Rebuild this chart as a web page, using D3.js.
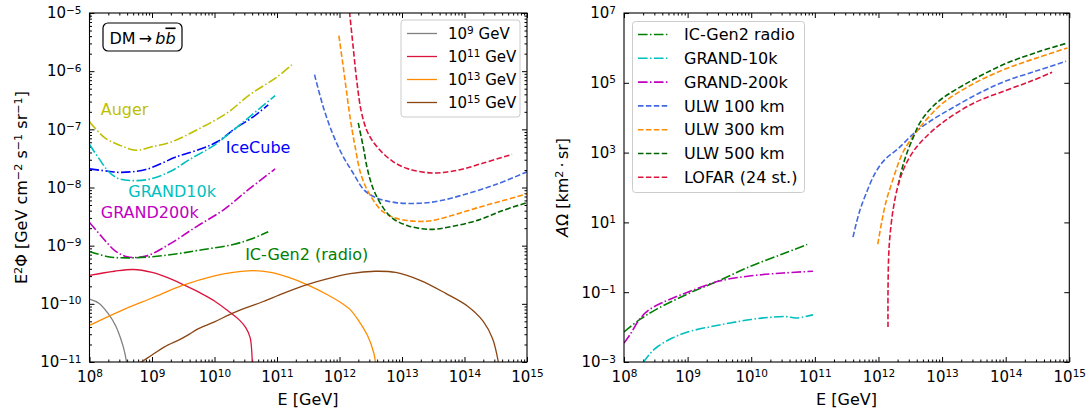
<!DOCTYPE html>
<html lang="en">
<head>
<meta charset="UTF-8">
<title>DM to b bbar: flux limits and exposure</title>
<script src="https://cdnjs.cloudflare.com/ajax/libs/d3/7.8.5/d3.min.js"></script>
<style>
    body { margin: 0; background: #fff; }
    svg { font-family: 'DejaVu Sans', sans-serif; }
</style>
</head>
<body>
<div id="chart"></div>
<script>
// Every curve is a list of [log10(E / GeV), log10(value)] pairs.

// ---- left panel: sensitivities (E^2 Phi) ----
const auger     = [[8,-6.87],[8.25,-7.15],[8.5,-7.28],[8.74,-7.36],[9.0,-7.30],[9.3,-7.22],[9.77,-6.98],[10.2,-6.72],[10.57,-6.40],[11.0,-6.10],[11.26,-5.87]];
const iceCube   = [[8,-7.68],[8.3,-7.72],[8.5,-7.74],[8.9,-7.69],[9.4,-7.47],[9.8,-7.33],[10.05,-7.21],[10.35,-6.97],[10.6,-6.80],[10.86,-6.58]];
const grand10k  = [[8,-7.26],[8.15,-7.5],[8.3,-7.72],[8.45,-7.84],[8.65,-7.88],[8.95,-7.86],[9.3,-7.72],[9.6,-7.52],[10.0,-7.27],[10.25,-7.06],[10.5,-6.84],[10.97,-6.42]];
const grand200k = [[8,-8.60],[8.2,-8.85],[8.4,-9.08],[8.6,-9.19],[8.9,-9.18],[9.3,-8.96],[9.7,-8.68],[10.15,-8.38],[10.55,-8.03],[10.97,-7.68]];
const icGen2    = [[8,-9.10],[8.3,-9.19],[8.6,-9.21],[9.0,-9.19],[9.4,-9.14],[9.8,-9.07],[10.3,-8.98],[10.6,-8.88],[10.86,-8.76]];
const ulw100L   = [[11.6,-6.06],[11.75,-6.65],[11.9,-7.1],[12.05,-7.45],[12.2,-7.72],[12.4,-8.05],[12.6,-8.18],[12.9,-8.26],[13.3,-8.27],[13.6,-8.23],[14.0,-8.12],[14.5,-7.95],[15.0,-7.73]];
const ulw300L   = [[11.99,-5.39],[12.05,-5.85],[12.1,-6.25],[12.17,-6.8],[12.25,-7.3],[12.35,-7.8],[12.5,-8.15],[12.7,-8.42],[12.95,-8.54],[13.4,-8.58],[13.8,-8.48],[14.2,-8.35],[14.6,-8.23],[15.0,-8.11]];
const ulw500L   = [[12.3,-6.89],[12.38,-7.3],[12.45,-7.7],[12.55,-8.05],[12.7,-8.35],[12.85,-8.53],[13.1,-8.66],[13.45,-8.72],[13.8,-8.67],[14.25,-8.55],[14.6,-8.4],[15.0,-8.26]];
const lofarL    = [[12.16,-4.98],[12.22,-5.6],[12.28,-6.2],[12.35,-6.7],[12.45,-7.05],[12.6,-7.3],[12.85,-7.55],[13.1,-7.68],[13.5,-7.75],[13.9,-7.7],[14.3,-7.58],[14.76,-7.43]];

// ---- left panel: DM spectra for four masses ----
const dmMasses = ["9", "11", "13", "15"];
const dm9  = [[8,-9.92],[8.15,-9.99],[8.3,-10.17],[8.42,-10.38],[8.5,-10.6],[8.56,-10.82],[8.6,-11.05]];
const dm11 = [[8,-9.51],[8.4,-9.44],[8.7,-9.41],[9.0,-9.46],[9.25,-9.55],[9.5,-9.67],[9.75,-9.80],[10.0,-9.95],[10.25,-10.15],[10.4,-10.28],[10.5,-10.41],[10.57,-10.58],[10.595,-10.8],[10.605,-11.05]];
const dm13 = [[8,-10.37],[8.5,-10.12],[9,-9.90],[9.5,-9.68],[10,-9.52],[10.3,-9.46],[10.6,-9.43],[10.9,-9.46],[11.2,-9.55],[11.48,-9.67],[11.8,-9.84],[12.05,-10.0],[12.17,-10.1],[12.3,-10.28],[12.45,-10.55],[12.55,-10.85],[12.58,-11.05]];
const dm15 = [[8.8,-11.02],[9.0,-10.88],[9.2,-10.74],[9.45,-10.61],[9.6,-10.52],[9.72,-10.44],[10.0,-10.31],[10.25,-10.18],[10.5,-10.07],[10.78,-9.96],[11.1,-9.82],[11.48,-9.67],[11.8,-9.57],[12.17,-9.48],[12.57,-9.44],[12.9,-9.46],[13.3,-9.60],[13.7,-9.82],[14.05,-10.04],[14.3,-10.3],[14.45,-10.6],[14.55,-11.05]];

// in-plot labels: text, log10 E, log10 flux (baseline)
const leftLabels = [
    ["Auger", 8.18, -6.75],
    ["IceCube", 10.18, -7.40],
    ["GRAND10k", 8.62, -8.16],
    ["GRAND200k", 8.18, -8.52],
    ["IC-Gen2 (radio)", 10.49, -9.24]
];

// ---- right panel: exposure (A Omega) ----
const rightNames = ["IC-Gen2 radio", "GRAND-10k", "GRAND-200k", "ULW 100 km", "ULW 300 km", "ULW 500 km", "LOFAR (24 st.)"];
const icGen2R    = [[8,-2.14],[8.25,-1.78],[8.5,-1.5],[9,-1.05],[9.5,-0.66],[10,-0.25],[10.5,0.1],[10.88,0.37]];
const grand10kR  = [[8.3,-3.02],[8.4,-2.78],[8.52,-2.57],[8.75,-2.32],[9.0,-2.14],[9.5,-1.94],[10.0,-1.78],[10.3,-1.72],[10.55,-1.70],[10.7,-1.74],[10.97,-1.65]];
const grand200kR = [[8,-2.46],[8.1,-2.2],[8.25,-1.76],[8.4,-1.5],[8.6,-1.3],[9.0,-1.0],[9.5,-0.68],[10.0,-0.53],[10.5,-0.45],[10.97,-0.40]];
const ulw100R    = [[11.6,0.58],[11.7,1.3],[11.8,1.8],[11.95,2.42],[12.1,2.8],[12.3,3.1],[12.6,3.62],[12.9,4.0],[13.2,4.32],[13.6,4.72],[14.0,5.05],[14.5,5.35],[14.95,5.62]];
const ulw300R    = [[11.99,0.38],[12.05,1.0],[12.12,1.6],[12.21,2.13],[12.37,2.95],[12.5,3.35],[12.65,3.72],[13.0,4.4],[13.5,4.98],[14.0,5.4],[14.5,5.72],[14.97,6.0]];
const ulw500R    = [[12.31,2.07],[12.38,2.6],[12.45,3.0],[12.55,3.45],[12.65,3.85],[12.8,4.22],[13.0,4.55],[13.5,5.1],[14.0,5.55],[14.5,5.88],[14.97,6.14]];
const lofarR     = [[12.15,-2.0],[12.15,-1.0],[12.16,0.0],[12.18,0.6],[12.23,1.36],[12.3,2.0],[12.39,2.5],[12.5,2.9],[12.65,3.27],[13.0,3.85],[13.5,4.42],[14.0,4.78],[14.4,5.05],[14.73,5.3]];

// axis decades
const xDecades = [8, 9, 10, 11, 12, 13, 14, 15];
const yDecadesL = [-11, -10, -9, -8, -7, -6, -5];
const yDecadesR = [-3, -1, 1, 3, 5, 7];

// ---- styles ----
const DASHDOT = "9.6,2.4,1.5,2.4";
const DASHED = "5.5,2.4";
const col = {
    y: "#bfbf00", b: "#0000ff", c: "#00bfbf", m: "#bf00bf", g: "#008000",
    royal: "#4169e1", orange: "#ff8c00", dgreen: "#006400", crimson: "#dc143c",
    gray: "#808080", brown: "#8b4513"
};

const W = 1091, H = 416;
const svg = d3.select("#chart").append("svg").attr("width", W).attr("height", H);
const pow = v => Math.pow(10, v);
const toSup = n => String(n).replace("-", "\u2212");

function richText(sel, parts) {
    // parts: [text, isSuperscript]
    let up = false;
    parts.forEach(([t, s]) => {
        const ts = sel.append("tspan").text(t);
        if (s && !up) { ts.attr("dy", "-0.45em").attr("font-size", "70%"); up = true; }
        else if (s) { ts.attr("font-size", "70%"); }
        else if (up) { ts.attr("dy", "0.315em"); up = false; }
    });
}

function powLabel(sel, e) {
    sel.text(null);
    richText(sel, [["10", false], [toSup(e), true]]);
}

function minorTicks(decades) {
    const out = [];
    for (let i = 0; i < decades.length - 1; i++)
        for (let k = 2; k <= 9; k++) out.push(k * pow(decades[i]));
    return out;
}

function panel(left, right, top, bottom, yDom, yMajor, yMinor, id) {
    const x = d3.scaleLog().domain([1e8, 1e15]).range([left, right]);
    const y = d3.scaleLog().domain(yDom).range([bottom, top]);

    svg.append("clipPath").attr("id", id)
        .append("rect").attr("x", left).attr("y", top)
        .attr("width", right - left).attr("height", bottom - top);

    const xMaj = xDecades.map(pow), xMin = minorTicks(xDecades);
    const fix = g => {
        g.select(".domain").remove();
        g.attr("font-size", 15).attr("font-family", null);
    };
    const labelPow = g => g.selectAll(".tick text").each(function(d) {
        powLabel(d3.select(this), Math.round(Math.log10(d)));
    });

    svg.append("g").attr("transform", `translate(0,${bottom})`)
        .call(d3.axisBottom(x).tickValues(xMaj).tickSize(-5).tickSizeOuter(0).tickPadding(9))
        .call(fix).call(labelPow);
    svg.append("g").attr("transform", `translate(0,${bottom})`)
        .call(d3.axisBottom(x).tickValues(xMin).tickSize(-2.5).tickSizeOuter(0).tickFormat(""))
        .call(fix);
    svg.append("g").attr("transform", `translate(0,${top})`)
        .call(d3.axisTop(x).tickValues(xMaj).tickSize(-5).tickSizeOuter(0).tickFormat(""))
        .call(fix);
    svg.append("g").attr("transform", `translate(0,${top})`)
        .call(d3.axisTop(x).tickValues(xMin).tickSize(-2.5).tickSizeOuter(0).tickFormat(""))
        .call(fix);

    svg.append("g").attr("transform", `translate(${left},0)`)
        .call(d3.axisLeft(y).tickValues(yMajor).tickSize(-5).tickSizeOuter(0).tickPadding(8))
        .call(fix).call(labelPow);
    svg.append("g").attr("transform", `translate(${right},0)`)
        .call(d3.axisRight(y).tickValues(yMajor).tickSize(-5).tickSizeOuter(0).tickFormat(""))
        .call(fix);
    if (yMinor.length) {
        svg.append("g").attr("transform", `translate(${left},0)`)
            .call(d3.axisLeft(y).tickValues(yMinor).tickSize(-2.5).tickSizeOuter(0).tickFormat(""))
            .call(fix);
        svg.append("g").attr("transform", `translate(${right},0)`)
            .call(d3.axisRight(y).tickValues(yMinor).tickSize(-2.5).tickSizeOuter(0).tickFormat(""))
            .call(fix);
    }

    const plot = svg.append("g").attr("clip-path", `url(#${id})`);
    const line = d3.line()
        .x(d => x(pow(d[0])))
        .y(d => y(pow(d[1])))
        .curve(d3.curveCatmullRom.alpha(0.5));

    const drawFrame = () => svg.append("rect")
        .attr("x", left).attr("y", top)
        .attr("width", right - left).attr("height", bottom - top)
        .attr("fill", "none").attr("stroke", "#000").attr("stroke-width", 1.1);

    return { x, y, plot, line, drawFrame };
}

function curve(p, data, color, dash, width) {
    p.plot.append("path").datum(data)
        .attr("d", p.line)
        .attr("fill", "none")
        .attr("stroke", color)
        .attr("stroke-width", width || 1.6)
        .attr("stroke-dasharray", dash || null);
}

// ================= left panel =================
const L = panel(89.5, 527, 13, 362, [1e-11, 1e-5], yDecadesL.map(pow), minorTicks(yDecadesL), "clipL");

curve(L, dm9, col.gray, null, 1.3);
curve(L, dm11, col.crimson, null, 1.3);
curve(L, dm13, col.orange, null, 1.3);
curve(L, dm15, col.brown, null, 1.3);

curve(L, auger, col.y, DASHDOT);
curve(L, iceCube, col.b, DASHDOT);
curve(L, grand10k, col.c, DASHDOT);
curve(L, grand200k, col.m, DASHDOT);
curve(L, icGen2, col.g, DASHDOT);

curve(L, ulw100L, col.royal, DASHED);
curve(L, ulw300L, col.orange, DASHED);
curve(L, ulw500L, col.dgreen, DASHED);
curve(L, lofarL, col.crimson, DASHED);

const leftLabelColors = [col.y, col.b, col.c, col.m, col.g];
leftLabels.forEach(([t, lx, ly], i) => {
    svg.append("text")
        .attr("x", L.x(pow(lx))).attr("y", L.y(pow(ly)))
        .attr("font-size", 16).attr("fill", leftLabelColors[i])
        .text(t);
});
L.drawFrame();

// DM -> b bbar box
svg.append("rect").attr("x", 103).attr("y", 23).attr("width", 79).attr("height", 28)
    .attr("rx", 5).attr("fill", "#fff").attr("stroke", "#000").attr("stroke-width", 1.2);
const dmText = svg.append("text").attr("x", 142.5).attr("y", 43.5)
    .attr("text-anchor", "middle").attr("font-size", 16);
dmText.append("tspan").text("DM\u2009\u2192\u2009");
dmText.append("tspan").attr("font-style", "italic").text("b");
dmText.append("tspan").attr("font-style", "italic").style("text-decoration", "overline").text("b");

// left legend
const legL = svg.append("g");
legL.append("rect").attr("x", 401).attr("y", 20).attr("width", 119).attr("height", 97)
    .attr("rx", 3).attr("fill", "#fff").attr("fill-opacity", 0.8)
    .attr("stroke", "#cccccc").attr("stroke-width", 1);
const dmColors = [col.gray, col.crimson, col.orange, col.brown];
dmMasses.forEach((m, i) => {
    const yy = 33.5 + i * 23;
    legL.append("line").attr("x1", 407).attr("x2", 437).attr("y1", yy).attr("y2", yy)
        .attr("stroke", dmColors[i]).attr("stroke-width", 1.3);
    const t = legL.append("text").attr("x", 448).attr("y", yy + 5.3).attr("font-size", 15);
    richText(t, [["10", false], [m, true], [" GeV", false]]);
});

// left axis titles
svg.append("text").attr("x", 308).attr("y", 405).attr("text-anchor", "middle")
    .attr("font-size", 16).text("E [GeV]");
const ylabL = svg.append("text")
    .attr("transform", "translate(27,187.5) rotate(-90)")
    .attr("text-anchor", "middle").attr("font-size", 16);
richText(ylabL, [["E", false], ["2", true], ["\u03A6 [GeV cm", false], ["\u22122", true],
    [" s", false], ["\u22121", true], [" sr", false], ["\u22121", true], ["]", false]]);

// ================= right panel =================
const R = panel(624, 1069.3, 13, 362, [1e-3, 1e7], yDecadesR.map(pow), [], "clipR");

const rightSeries = [icGen2R, grand10kR, grand200kR, ulw100R, ulw300R, ulw500R, lofarR];
const rightColors = [col.g, col.c, col.m, col.royal, col.orange, col.dgreen, col.crimson];
const rightDash = [DASHDOT, DASHDOT, DASHDOT, DASHED, DASHED, DASHED, DASHED];
rightSeries.forEach((s, i) => curve(R, s, rightColors[i], rightDash[i]));
R.drawFrame();

// right legend
const legR = svg.append("g");
legR.append("rect").attr("x", 632.5).attr("y", 21.5).attr("width", 172).attr("height", 171)
    .attr("rx", 3).attr("fill", "#fff").attr("fill-opacity", 0.8)
    .attr("stroke", "#cccccc").attr("stroke-width", 1);
rightNames.forEach((n, i) => {
    const yy = 34.5 + i * 23.8;
    legR.append("line").attr("x1", 638).attr("x2", 668).attr("y1", yy).attr("y2", yy)
        .attr("stroke", rightColors[i]).attr("stroke-width", 1.6)
        .attr("stroke-dasharray", rightDash[i]);
    legR.append("text").attr("x", 684).attr("y", yy + 5.6).attr("font-size", 16).text(n);
});

// right axis titles
svg.append("text").attr("x", 846.5).attr("y", 405).attr("text-anchor", "middle")
    .attr("font-size", 16).text("E [GeV]");
const ylabR = svg.append("text")
    .attr("transform", "translate(568,187.5) rotate(-90)")
    .attr("text-anchor", "middle").attr("font-size", 16);
ylabR.append("tspan").attr("font-style", "italic").text("A");
richText(ylabR, [["\u03A9 [km", false], ["2", true], ["\u2009\u00B7\u2009sr]", false]]);
</script>
</body>
</html>
